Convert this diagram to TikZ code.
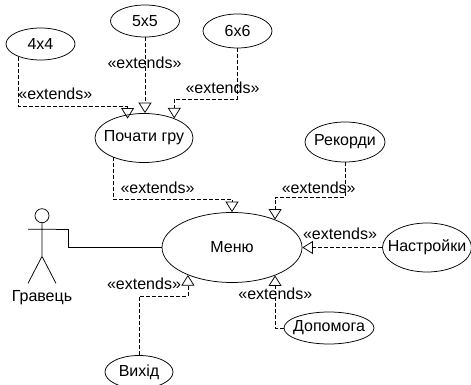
\documentclass[tikz,border=0pt]{standalone}
\usepackage{fontspec}
\setmainfont{Liberation Sans}
\usetikzlibrary{calc}
\usetikzlibrary{positioning}
\usetikzlibrary{shapes.geometric}
\usetikzlibrary{arrows.meta}

\begin{document}
\begin{tikzpicture}[on grid]
\fontsize{16}{18}\selectfont

\tikzset{usecase/.style={draw=black, line width=0.75pt, ellipse, inner ysep=0pt, inner xsep=-10pt},
	extline/.style={line width=0.75pt, dash pattern=on 4pt off 2pt, -{Triangle[open, length=10.5pt, width=13pt]}},
	actorline/.style={line width=0.75pt}}

\useasboundingbox (0pt,0pt) rectangle (471pt,385pt);

\node[usecase, minimum width=140pt, minimum height=70pt] (menu) at (232pt,137.5pt) {Меню};

\node[usecase, minimum width=98pt, minimum height=49pt, above left=109.5pt and 88pt of menu] (gra) {Почати гру};
\node[usecase, minimum width=69pt, minimum height=32pt, above left=94pt and 103.5pt of gra] (n44) {4x4};
\node[usecase, minimum width=69pt, minimum height=32pt, above right=117pt and 1pt of gra] (n55) {5x5};
\node[usecase, minimum width=69pt, minimum height=34pt, above right=107pt and 93.5pt of gra] (n66) {6x6};

\node[usecase, minimum width=80pt, minimum height=40pt, above right=105.5pt and 113pt of menu] (rekordy) {Рекорди};
\node[usecase, minimum width=89pt, minimum height=49pt, right=195pt of menu] (nastroiky) {Настройки};
\node[usecase, minimum width=90pt, minimum height=32pt, below right=80.5pt and 97pt of menu] (dopomoha) {Допомога};
\node[usecase, minimum width=68pt, minimum height=33pt, below left=124.5pt and 93pt of menu] (vykhid) {Вихід};

\node[below right=50pt and 14.8pt of n44] (ext44) {«extends»};
\node[below left=41.5pt and 0.5pt of n55] (ext55) {«extends»};
\node[below left=56.7pt and 15pt of n66] (ext66) {«extends»};
\node[below right=50pt and 13.5pt of gra] (extgra) {«extends»};
\node[below left=45.7pt and 26.3pt of rekordy] (extrek) {«extends»};
\node[above left=13.5pt and 87pt of nastroiky] (extnast) {«extends»};
\node[above left=34.7pt and 53.7pt of dopomoha] (extdop) {«extends»};
\node[above right=88.7pt and 5pt of vykhid] (extvykh) {«extends»};

\node[draw=black, line width=0.75pt, circle, minimum size=14pt, inner sep=0pt, above left=31.8pt and 190pt of menu] (head) {};
\node[below=82.3pt of head] (gravets) {Гравець};

\coordinate[below=33.3pt of head.south] (hip);
\coordinate[below=6.3pt of head.south] (chest);
\coordinate[left=14pt of chest] (arml);
\coordinate[right=14pt of chest] (armr);
\coordinate[below left=27pt and 14pt of hip] (legl);
\coordinate[below right=27pt and 14pt of hip] (legr);

\draw[actorline] (head.south) -- (hip)
	(arml) -- (armr)
	(legl) -- (hip) -- (legr);
\draw[actorline] (armr) -- ++(12pt,0) |- (menu.west);

\draw[extline, shorten >=-4pt] (n44.210) |- ($(gra.125)+(0,8pt)$) -- (gra.125);
\draw[extline] (n55.south) -- (n55.south |- gra.north);
\draw[extline] (n66.south) |- ($(gra.33)+(0,19pt)$) -- (gra.33);
\draw[extline] (gra.212) |- ($(menu.north)+(0,13pt)$) -- (menu.north);
\draw[extline] (rekordy.south) |- ($(menu.33)+(0,22pt)$) -- (menu.33);
\draw[extline] (nastroiky.west) -- (menu.east);
\draw[extline] (dopomoha.west) -| (menu.327);
\draw[extline] (vykhid.north) |- ($(menu.212)+(0,-21pt)$) -- (menu.212);
\end{tikzpicture}
\end{document}
